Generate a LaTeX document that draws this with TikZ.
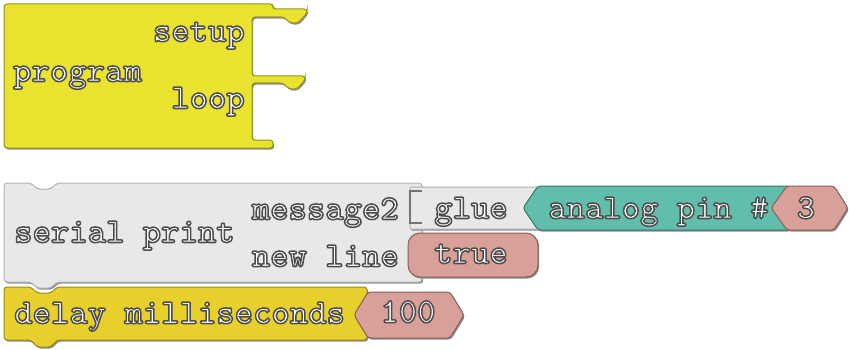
\documentclass[tikz,border=0pt]{standalone}
\usepackage{fontspec}
\definecolor{progyellow}{RGB}{233,226,46}
\definecolor{delayyellow}{RGB}{232,208,44}
\definecolor{blockgray}{RGB}{232,232,232}
\definecolor{analogteal}{RGB}{98,190,172}
\definecolor{valuepink}{RGB}{217,160,154}
% white letters with a dark outline
\newcommand{\emb}[1]{\special{pdf:literal direct 2 Tr 1.5 w 1 g 0.3 0.3 0.3 RG}#1\special{pdf:literal direct 0 Tr}}
\tikzset{
    %Define style for block shapes
    block/.style={
           line width=1pt,
           rounded corners=3pt,
           preaction={fill=black!45, transform canvas={xshift=1.2pt, yshift=-1.6pt}}},
    progblock/.style={block, fill=progyellow, draw=progyellow!65!black},
    delayblock/.style={block, fill=delayyellow, draw=delayyellow!65!black},
    serialblock/.style={block, fill=blockgray, draw=black!30},
    analogblock/.style={block, fill=analogteal, draw=analogteal!60!black},
    valblock/.style={block, fill=valuepink, draw=valuepink!60!black},
    socket/.style={draw=black!55, line width=1.6pt},
    %Define style for block labels
    lbl/.style={
           inner sep=0pt,
           text height=15pt,
           text depth=0pt,
           font=\ttfamily\bfseries\fontsize{35}{35}\selectfont}
}
\begin{document}
\begin{tikzpicture}[x=1pt,y=-1pt]
\useasboundingbox (0,0) rectangle (850,350);
% program block
\draw[progblock] (4,4) -- (273,4) -- (273,9) -- (307,9) -- (307,13) -- (298,23) -- (290,23)
  -- (284,17) -- (252,17) -- (252,76) -- (305,76) -- (305,80) -- (297,89) -- (289,89)
  -- (283,83) -- (252,83) -- (252,140) -- (273,140) -- (273,148) -- (4,148) -- cycle;
\node[lbl, anchor=east] (setup) at (245,34) {\emb{setup}};
\node[lbl, anchor=west] (program) at (13,74) {\emb{program}};
\node[lbl, anchor=east] (loop) at (245,101) {\emb{loop}};
% delay block
\draw[delayblock] (4,287) -- (31,287) -- (37,293) -- (51,293) -- (57,287) -- (367,287)
  -- (367,340) -- (57,340) -- (51,347) -- (37,347) -- (31,340) -- (4,340) -- cycle;
\draw[valblock] (354,315) -- (368,292) -- (450,292) -- (464,315) -- (450,338) -- (368,338) -- cycle;
\node[lbl, anchor=west] (delay) at (14,316) {\emb{delay milliseconds}};
\node[lbl] (ms) at (408,315) {\emb{100}};
% serial print block
\draw[serialblock] (4,183) -- (31,183) -- (37,189) -- (51,189) -- (57,183) -- (422,183)
  -- (422,282) -- (57,282) -- (51,288) -- (37,288) -- (31,282) -- (4,282) -- cycle;
\draw[serialblock, rounded corners=1pt] (410,187) rectangle (540,229);
\draw[socket] (422,191) -- (410,191) -- (410,223) -- (422,223);
\draw[analogblock] (523,208) -- (538,186) -- (790,186) -- (790,230) -- (538,230) -- cycle;
\draw[valblock] (771,208) -- (787,186) -- (834,186) -- (848,208) -- (834,230) -- (787,230) -- cycle;
\draw[valblock, rounded corners=12pt] (408,233) rectangle (538,277);
\node[lbl, anchor=west] (serial) at (14,235) {\emb{serial print}};
\node[lbl, anchor=east] (message) at (399,212) {\emb{message2}};
\node[lbl, anchor=east] (newline) at (399,259) {\emb{new line}};
\node[lbl] (glue) at (471,211) {\emb{glue}};
\node[lbl, anchor=west] (analog) at (548,211) {\emb{analog pin \#}};
\node[lbl] (pin) at (806,211) {\emb{3}};
\node[lbl] (true) at (471,256) {\emb{true}};
\end{tikzpicture}
\end{document}
